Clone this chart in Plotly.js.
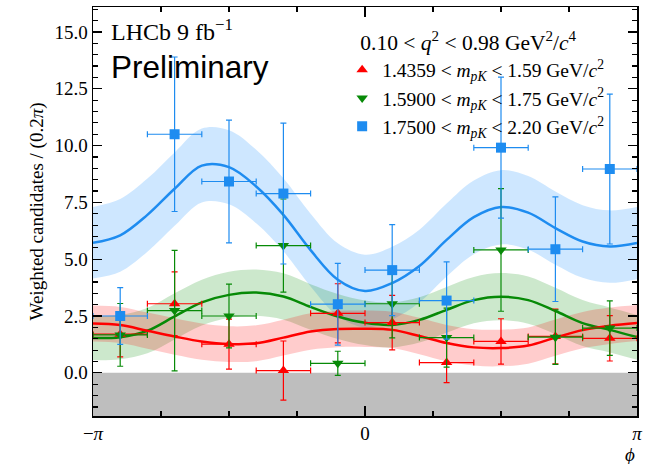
<!DOCTYPE html>
<html>
<head>
<meta charset="utf-8">
<script src="https://cdn.plot.ly/plotly-3.0.1.min.js"></script>
<style>html,body{margin:0;padding:0;background:#fff;}#chart{width:645px;height:464px;}</style>
</head>
<body>
<div id="chart"></div>
<script>
// phi in units of pi
const phiGrid = [-1,-0.9,-0.8,-0.7,-0.6,-0.5,-0.4,-0.3,-0.2,-0.1,0,0.1,0.2,0.3,0.4,0.5,0.6,0.7,0.8,0.9,1];

const fitRed   = [2.17,2.10,1.85,1.60,1.38,1.27,1.30,1.55,1.82,1.93,1.94,1.89,1.62,1.31,1.12,1.09,1.20,1.55,1.88,2.07,2.19];
const fitRedHi = [2.96,2.90,2.65,2.40,2.17,2.05,2.09,2.34,2.62,2.73,2.74,2.69,2.42,2.11,1.92,1.90,2.00,2.35,2.68,2.87,2.98];
const fitRedLo = [1.38,1.31,1.06,0.80,0.58,0.48,0.51,0.76,1.02,1.13,1.14,1.09,0.82,0.51,0.32,0.29,0.40,0.75,1.08,1.27,1.40];

const fitGreen   = [1.53,1.57,1.85,2.48,3.10,3.43,3.53,3.36,2.90,2.48,2.20,2.11,2.33,2.77,3.20,3.35,3.20,2.72,2.19,1.89,1.57];
const fitGreenHi = [2.50,2.55,2.85,3.50,4.10,4.45,4.55,4.38,3.90,3.47,3.18,3.10,3.33,3.78,4.22,4.39,4.24,3.74,3.20,2.88,2.55];
const fitGreenLo = [0.56,0.60,0.86,1.47,2.08,2.42,2.51,2.34,1.90,1.49,1.22,1.12,1.33,1.76,2.18,2.31,2.16,1.70,1.18,0.90,0.58];

const fitBlue   = [5.72,6.05,6.95,8.10,9.12,9.05,8.20,6.95,5.40,4.10,3.60,3.95,4.70,5.85,6.85,7.30,7.05,6.37,5.78,5.56,5.71];
const fitBlueHi = [7.30,7.65,8.55,9.70,10.75,10.68,9.82,8.56,7.00,5.70,5.20,5.55,6.30,7.45,8.46,8.92,8.66,7.98,7.38,7.15,7.30];
const fitBlueLo = [4.15,4.45,5.33,6.47,7.50,7.42,6.58,5.35,3.80,2.50,2.00,2.35,3.10,4.24,5.22,5.65,5.42,4.76,4.18,3.96,4.12];

const phiCenters = [-0.9,-0.7,-0.5,-0.3,-0.1,0.1,0.3,0.5,0.7,0.9];
const binHalfWidth = 0.1;

const redVals   = [1.70,3.04,1.26,0.10,2.62,2.21,0.45,1.38,1.60,1.52];
const redErr    = [1.00,1.40,1.10,1.30,1.30,1.20,0.88,1.00,1.20,1.00];
const greenVals = [1.67,2.74,2.50,5.60,0.42,3.04,1.55,5.41,1.57,1.97];
const greenErr  = [1.38,2.65,1.40,2.05,0.53,1.50,1.30,2.70,1.20,1.20];
const blueVals  = [2.50,10.50,8.42,7.89,3.02,4.52,3.18,9.91,5.44,8.97];
const blueErr   = [1.25,3.40,2.70,3.10,1.80,2.00,1.70,3.10,2.30,3.30];

const labels = [
  '1.4359 &lt; <i>m</i><sub><i>pK</i></sub> &lt; 1.59 GeV/<i>c</i><sup>2</sup>',
  '1.5900 &lt; <i>m</i><sub><i>pK</i></sub> &lt; 1.75 GeV/<i>c</i><sup>2</sup>',
  '1.7500 &lt; <i>m</i><sub><i>pK</i></sub> &lt; 2.20 GeV/<i>c</i><sup>2</sup>'
];
const legendTitle = '&nbsp;&nbsp;&nbsp;0.10 &lt; <i>q</i><sup>2</sup> &lt; 0.98 GeV<sup>2</sup>/<i>c</i><sup>4</sup>';

const RED = '#ff0000', GREEN = '#078a07', BLUE = '#1e8cf0';
const bandColors = ['rgba(255,0,0,0.2)','rgba(0,140,0,0.2)','rgba(30,144,255,0.22)'];

function band(lo, hi, col) {
  return [
    {x: phiGrid, y: lo, mode:'lines', line:{width:0, shape:'spline'}, showlegend:false, hoverinfo:'skip'},
    {x: phiGrid, y: hi, mode:'lines', line:{width:0, shape:'spline'}, fill:'tonexty', fillcolor:col, showlegend:false, hoverinfo:'skip'}
  ];
}
function curve(y, col) {
  return {x: phiGrid, y: y, mode:'lines', line:{width:2.5, color:col, shape:'spline'}, showlegend:false, hoverinfo:'skip'};
}
function pts(y, err, col, sym, name) {
  return {x: phiCenters, y: y, mode:'markers', name: name,
    marker:{symbol:sym, size:10, color:col},
    error_y:{type:'data', array:err, visible:true, color:col, thickness:1.2, width:3},
    error_x:{type:'constant', value:binHalfWidth, visible:true, color:col, thickness:1.2, width:3}};
}

const data = [
  ...band(fitBlueLo, fitBlueHi, bandColors[2]),
  ...band(fitGreenLo, fitGreenHi, bandColors[1]),
  ...band(fitRedLo, fitRedHi, bandColors[0]),
  curve(fitBlue, BLUE), curve(fitGreen, GREEN), curve(fitRed, RED),
  pts(redVals, redErr, RED, 'triangle-up', labels[0]),
  pts(greenVals, greenErr, GREEN, 'triangle-down', labels[1]),
  pts(blueVals, blueErr, BLUE, 'square', labels[2])
];

const serif = 'Liberation Serif, Times New Roman, serif';
const layout = {
  width: 645, height: 464,
  margin: {l: 93, r: 8, t: 7, b: 48},
  paper_bgcolor: '#fff', plot_bgcolor: '#fff',
  showlegend: true,
  font: {family: serif, color: '#000', size: 17},
  xaxis: {
    range: [-1, 1], tickmode: 'array', tickvals: [-1, 0, 1],
    ticktext: ['−<i>π</i>', '0', '<i>π</i>'],
    ticks: 'inside', ticklen: 10, tickwidth: 1.2, tickcolor: '#000',
    showline: true, linecolor: '#000', linewidth: 1.5, mirror: 'allticks',
    showgrid: false, zeroline: false,
    tickfont: {family: serif, size: 19},
    minor: {tickmode: 'linear', tick0: 0, dtick: 0.25, ticks: 'inside', ticklen: 5, tickwidth: 1.2, tickcolor: '#000', showgrid: false}
  },
  yaxis: {
    range: [-1.9, 16.1], tickmode: 'linear', tick0: 0, dtick: 2.5, tickformat: '.1f',
    ticks: 'inside', ticklen: 9, tickwidth: 1.2, tickcolor: '#000',
    showline: true, linecolor: '#000', linewidth: 1.5, mirror: 'allticks',
    showgrid: false, zeroline: false,
    tickfont: {family: serif, size: 19},
    title: {text: 'Weighted candidates / (0.2<i>π</i>)', font: {family: serif, size: 19}, standoff: 6},
    minor: {tickmode: 'linear', tick0: 0, dtick: 0.5, ticks: 'inside', ticklen: 5, tickwidth: 1.2, tickcolor: '#000', showgrid: false}
  },
  shapes: [
    {type: 'rect', xref: 'paper', yref: 'y', x0: 0, x1: 1, y0: -1.9, y1: 0, fillcolor: '#bebebe', line: {width: 0}, layer: 'below'}
  ],
  legend: {
    x: 0.458, y: 0.962, xanchor: 'left', yanchor: 'top',
    traceorder: 'normal',
    bgcolor: 'rgba(0,0,0,0)', borderwidth: 0,
    font: {family: serif, size: 19.5, color: '#000'},
    title: {text: legendTitle, font: {family: serif, size: 21.5, color: '#000'}, side: 'top'},
    tracegroupgap: 0, itemwidth: 30
  },
  annotations: [
    {xref: 'paper', yref: 'paper', x: 0.03, y: 0.985, xanchor: 'left', yanchor: 'top', showarrow: false,
     text: 'LHCb 9 fb<sup>−1</sup>', font: {family: serif, size: 24, color: '#000'}},
    {xref: 'paper', yref: 'paper', x: 0.03, y: 0.902, xanchor: 'left', yanchor: 'top', showarrow: false,
     text: 'Preliminary', font: {family: 'Liberation Sans, Arial, sans-serif', size: 31.5, color: '#000'}},
    {xref: 'paper', yref: 'paper', x: 0.988, y: 0, xanchor: 'center', yanchor: 'top', yshift: -26, showarrow: false,
     text: '<i>ϕ</i>', font: {family: serif, size: 19, color: '#000'}}
  ]
};

Plotly.newPlot('chart', data, layout, {staticPlot: true, displayModeBar: false});
</script>
</body>
</html>
